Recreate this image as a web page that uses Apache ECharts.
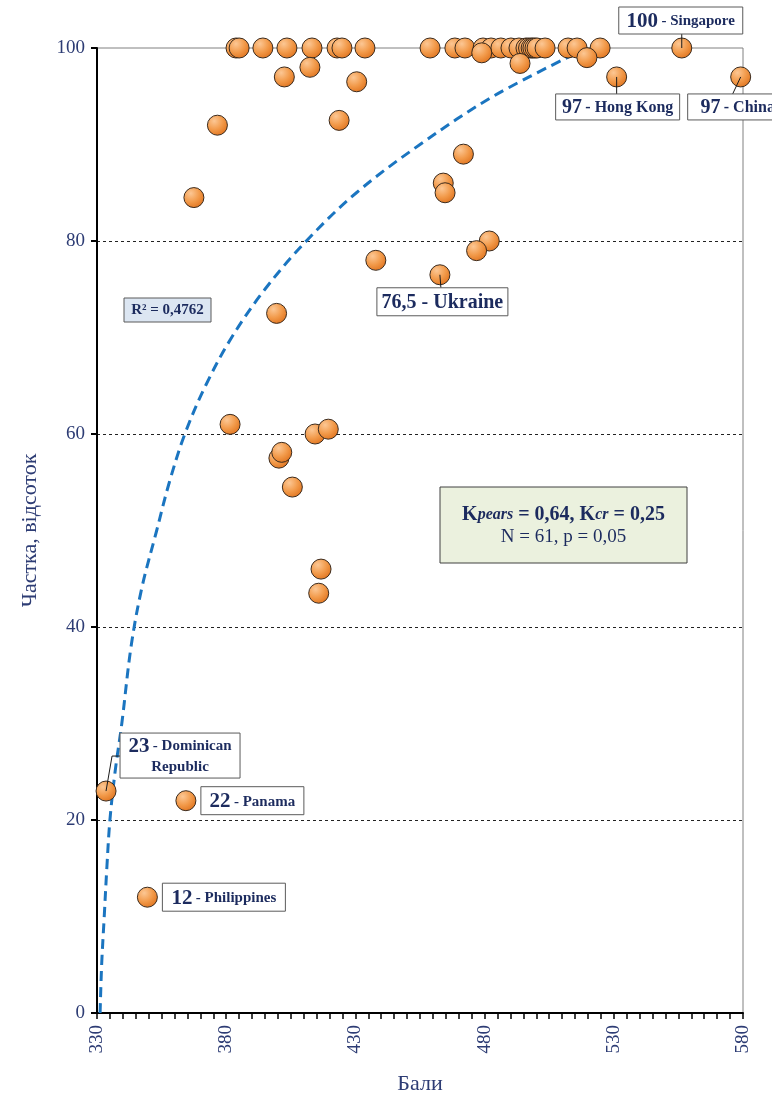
<!DOCTYPE html>
<html>
<head>
<meta charset="utf-8">
<script src="https://cdn.jsdelivr.net/npm/echarts@6/dist/echarts.min.js"></script>
<style>
html,body{margin:0;padding:0;background:#fff;}
#c{width:772px;height:1102px;}
</style>
</head>
<body>
<div id="c"></div>
<script>
// ---- data ----
const scores = [
  383.8, 385.0, 394.2, 403.5, 413.2, 422.9, 424.8, 433.7,
  458.9, 468.5, 472.4, 479.4, 482.5, 486.3, 490.2, 493.3, 496.0, 497.0, 498.0, 498.7, 499.5, 500.3,
  503.4, 512.3, 515.8, 524.7, 556.3,
  478.9, 493.7, 519.6,
  402.5, 412.4, 430.5, 376.6, 423.7, 367.5, 437.9,
  531.1, 579.1,
  471.8, 464.0, 464.7, 481.8, 476.9, 462.7,
  399.5, 381.5, 414.4, 419.5, 400.4, 401.5, 405.6, 416.7, 415.8,
  333.5, 364.4, 349.5
];
const shares = [
  100, 100, 100, 100, 100, 100, 100, 100,
  100, 100, 100, 100, 100, 100, 100, 100, 100, 100, 100, 100, 100, 100,
  100, 100, 100, 100, 100,
  99.5, 98.4, 99.0,
  97.0, 98.0, 96.5, 92.0, 92.5, 84.5, 78.0,
  97, 97,
  89.0, 86.0, 85.0, 80.0, 79.0, 76.5,
  72.5, 61.0, 60.0, 60.5, 57.5, 58.1, 54.5, 46.0, 43.5,
  23, 22, 12
];
// logarithmic trend line
const trendX = [331.2, 331.8, 332.8, 333.8, 335.0, 337.0, 339.6, 343.2, 347.3, 353.1, 358.0, 364.0, 372.0, 382.1, 395.0, 411.0, 430.4, 455.0, 483.4, 519.5];
const trendY = [0, 5, 10, 15, 20, 25, 30, 38, 44, 50, 55, 60, 65, 70, 75, 80, 85, 90, 95, 100];
const xTicks = [330, 380, 430, 480, 530, 580];
const yTicks = [0, 20, 40, 60, 80, 100];

// annotated countries
const annotations = [
  {key: 'sg', x: 556.3, y: 100, big: '100', small: '- Singapore'},
  {key: 'hk', x: 531.1, y: 97, big: '97', small: '- Hong Kong'},
  {key: 'cn', x: 579.1, y: 97, big: '97', small: '- China'},
  {key: 'ua', x: 462.7, y: 76.5, big: '76,5 - Ukraine', small: ''},
  {key: 'do', x: 333.5, y: 23, big: '23', small: '- Dominican', small2: 'Republic'},
  {key: 'pa', x: 364.4, y: 22, big: '22', small: '- Panama'},
  {key: 'ph', x: 349.5, y: 12, big: '12', small: '- Philippines'}
];
const statsText = {r2: 'R² = 0,4762', k1: 'K', k1i: 'pears', k1b: ' = 0,64, K', k2i: 'cr', k2b: ' = 0,25', line2: 'N = 61, p = 0,05'};

// ---- layout (pixels) ----
const layout = {
  sg: {dx: -63, dy: -41, w: 124, h: 27, bigSize: 21, smallSize: 15, conn: [[0,0],[0,-14]]},
  hk: {dx: -61, dy: 17, w: 124, h: 26, bigSize: 20, smallSize: 16, conn: [[0,0],[0,17]]},
  cn: {dx: -53, dy: 17, w: 100, h: 26, bigSize: 20, smallSize: 16, conn: [[0,0],[-8,17]]},
  ua: {dx: -63, dy: 13, w: 131, h: 28, bigSize: 20, smallSize: 20, conn: [[0,0],[1,13]]},
  do: {dx: 14, dy: -58, w: 120, h: 45, bigSize: 21, smallSize: 15, conn: [[0,0],[6,-35],[14,-35]]},
  pa: {dx: 15, dy: -14, w: 103, h: 28, bigSize: 21, smallSize: 15, conn: null},
  ph: {dx: 15, dy: -14, w: 123, h: 28, bigSize: 21, smallSize: 15, conn: null}
};

const FONT = '"Liberation Serif", "Times New Roman", serif';
const NAVY = '#1C2B5E';
const AXIS_TXT = '#2D3C74';

const pts = scores.map((s, i) => [s, shares[i]]);
const trend = trendX.map((x, i) => [x, trendY[i]]);

const chart = echarts.init(document.getElementById('c'), null, {renderer: 'canvas'});

const markerFill = new echarts.graphic.RadialGradient(0.35, 0.3, 0.75, [
  {offset: 0, color: '#FCC794'},
  {offset: 0.55, color: '#F29A4A'},
  {offset: 1, color: '#E0741F'}
]);

chart.setOption({
  animation: false,
  backgroundColor: '#fff',
  grid: {left: 97, right: 29, top: 48, bottom: 89, show: true, borderColor: '#808080', borderWidth: 1, backgroundColor: 'transparent'},
  xAxis: {
    type: 'value', min: xTicks[0], max: xTicks[xTicks.length - 1], interval: 50,
    name: 'Бали', nameLocation: 'middle', nameGap: 60,
    nameTextStyle: {fontFamily: FONT, fontSize: 22, color: AXIS_TXT},
    axisLine: {show: true, onZero: false, lineStyle: {color: '#000', width: 2}},
    axisTick: {show: true, inside: false, length: 6, lineStyle: {color: '#000', width: 1.5}},
    minorTick: {show: true, splitNumber: 10, length: 6, lineStyle: {color: '#000', width: 1.5}},
    axisLabel: {rotate: 90, fontFamily: FONT, fontSize: 19, color: AXIS_TXT, margin: 12},
    splitLine: {show: false}
  },
  yAxis: {
    type: 'value', min: yTicks[0], max: yTicks[yTicks.length - 1], interval: 20,
    name: 'Частка, відсоток', nameLocation: 'middle', nameGap: 56, nameRotate: 90,
    nameTextStyle: {fontFamily: FONT, fontSize: 22, color: AXIS_TXT},
    axisLine: {show: true, onZero: false, lineStyle: {color: '#000', width: 2}},
    axisTick: {show: true, inside: false, length: 6, lineStyle: {color: '#000', width: 2}},
    axisLabel: {fontFamily: FONT, fontSize: 19, color: AXIS_TXT, margin: 12},
    splitLine: {show: true, lineStyle: {color: ['rgba(0,0,0,0)', '#222', '#222', '#222', '#222'], type: [3, 3], width: 1}}
  },
  series: [
    {
      type: 'line', data: trend, smooth: 0.35, symbol: 'none', z: 3,
      lineStyle: {color: '#1B75C0', width: 3, type: [10, 6]}
    },
    {
      type: 'scatter', data: pts, symbol: 'circle', symbolSize: 20, z: 4,
      itemStyle: {color: markerFill, borderColor: '#3B2A1C', borderWidth: 1, opacity: 1}
    }
  ]
});

// ---- annotation boxes ----
const graphics = [];
annotations.forEach(a => {
  const L = layout[a.key];
  const p = chart.convertToPixel({seriesIndex: 1}, [a.x, a.y]);
  const bx = p[0] + L.dx, by = p[1] + L.dy;
  if (L.conn) {
    graphics.push({
      type: 'polyline', z: 50,
      shape: {points: L.conn.map(c => [p[0] + c[0], p[1] + c[1]])},
      style: {stroke: '#1a1a1a', lineWidth: 1, fill: null}
    });
  }
  graphics.push({
    type: 'rect', z: 51,
    shape: {x: bx, y: by, width: L.w, height: L.h},
    style: {fill: '#fff', stroke: '#5a5a5a', lineWidth: 1}
  });
  let txt = '{b|' + a.big + '}' + (a.small ? ' {s|' + a.small + '}' : '');
  if (a.small2) txt += '\n{s2|' + a.small2 + '}';
  graphics.push({
    type: 'text', z: 52, x: bx + L.w / 2, y: by + L.h / 2 + 1,
    style: {
      text: txt, align: 'center', verticalAlign: 'middle',
      rich: {
        b: {fontFamily: FONT, fontSize: L.bigSize, fontWeight: 'bold', fill: NAVY, lineHeight: 22},
        s: {fontFamily: FONT, fontSize: L.smallSize, fontWeight: 'bold', fill: NAVY, lineHeight: 22},
        s2: {fontFamily: FONT, fontSize: L.smallSize, fontWeight: 'bold', fill: NAVY, lineHeight: 20, align: 'center'}
      }
    }
  });
});

// R² box
graphics.push({type: 'rect', z: 51, shape: {x: 124, y: 298, width: 87, height: 24}, style: {fill: '#DCE6F2', stroke: '#5a5a5a', lineWidth: 1}});
graphics.push({type: 'text', z: 52, x: 167.5, y: 310.5, style: {text: statsText.r2, align: 'center', verticalAlign: 'middle', font: 'bold 15px ' + FONT, fill: NAVY}});

// correlation box
graphics.push({type: 'rect', z: 51, shape: {x: 440, y: 487, width: 247, height: 76}, style: {fill: '#EBF1DE', stroke: '#404040', lineWidth: 1}});
graphics.push({
  type: 'text', z: 52, x: 563.5, y: 526,
  style: {
    text: '{k|' + statsText.k1 + '}{i|' + statsText.k1i + '}{k|' + statsText.k1b + '}{i|' + statsText.k2i + '}{k|' + statsText.k2b + '}\n{n|' + statsText.line2 + '}',
    align: 'center', verticalAlign: 'middle',
    rich: {
      k: {fontFamily: FONT, fontSize: 20, fontWeight: 'bold', fill: NAVY, lineHeight: 23},
      i: {fontFamily: FONT, fontSize: 16, fontWeight: 'bold', fontStyle: 'italic', fill: NAVY, lineHeight: 23},
      n: {fontFamily: FONT, fontSize: 19, fill: NAVY, lineHeight: 23, align: 'center'}
    }
  }
});

chart.setOption({graphic: {elements: graphics}});
</script>
</body>
</html>
